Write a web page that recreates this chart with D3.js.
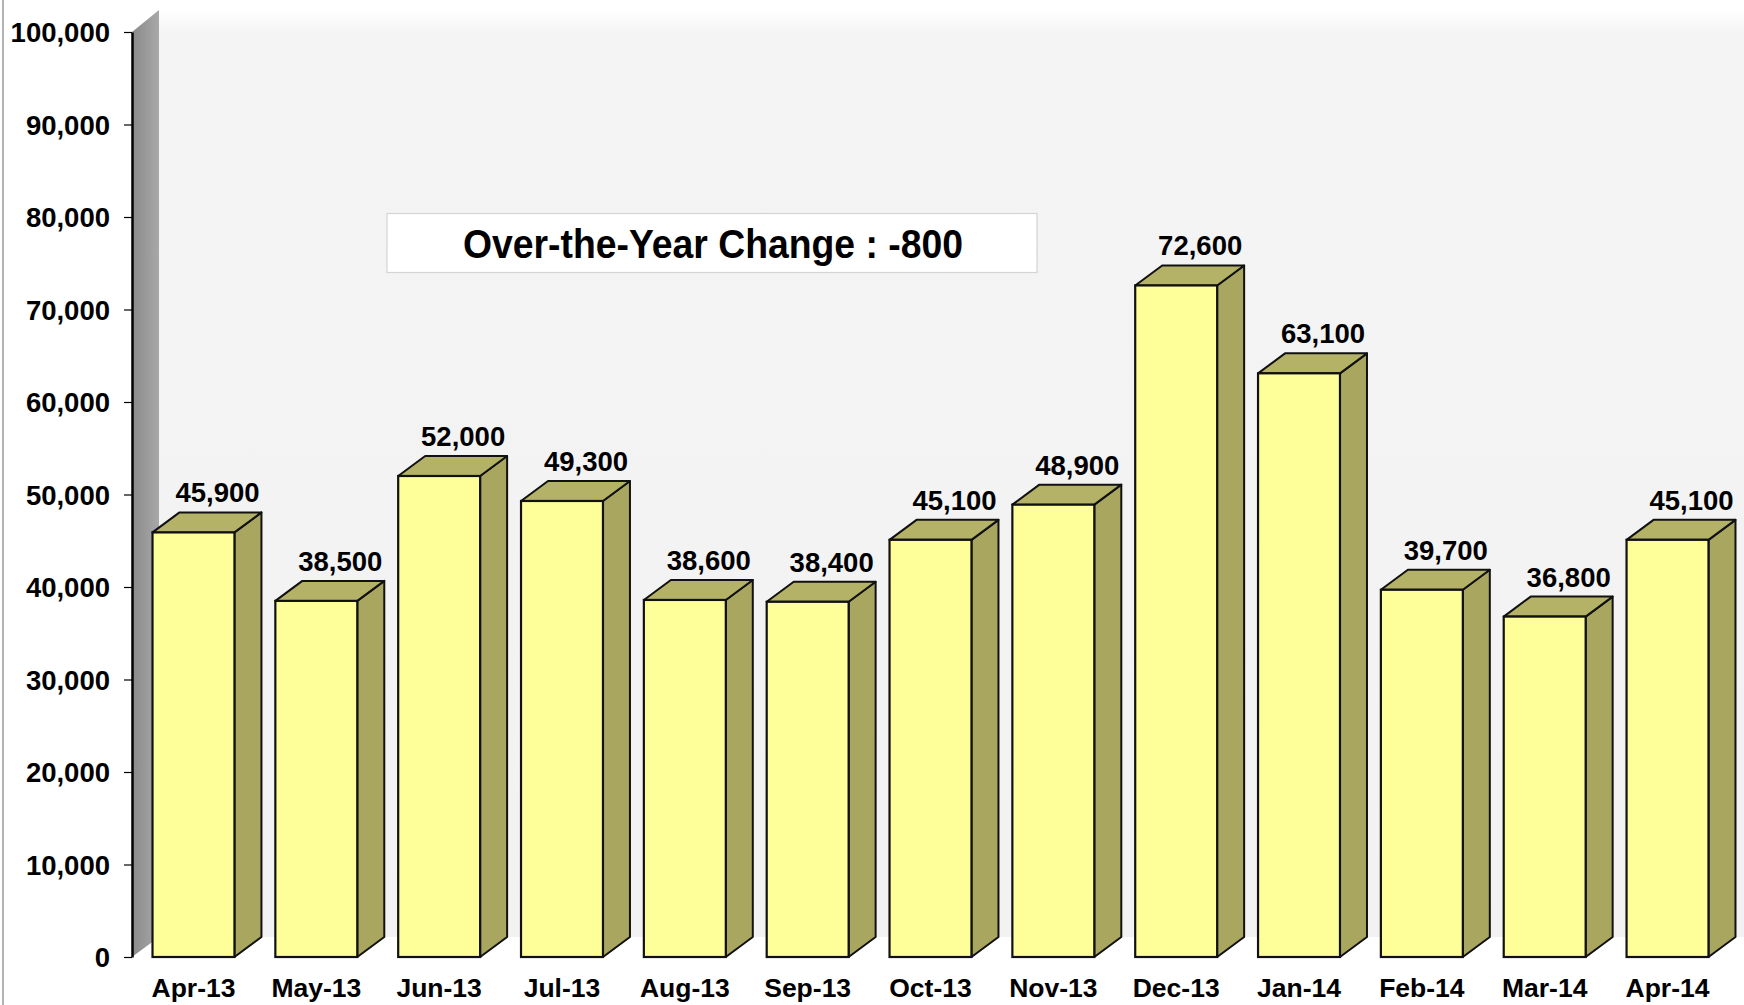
<!DOCTYPE html>
<html>
<head>
<meta charset="utf-8">
<script src="https://cdn.jsdelivr.net/npm/d3@7"></script>
<style>
  html, body { margin: 0; padding: 0; background: #ffffff; }
  svg { display: block; }
  text { font-family: "Liberation Sans", Arial, sans-serif; font-weight: bold; fill: #000; }
</style>
</head>
<body>
<svg id="chart" width="1744" height="1005"></svg>
<script>
const categories = ["Apr-13","May-13","Jun-13","Jul-13","Aug-13","Sep-13","Oct-13","Nov-13","Dec-13","Jan-14","Feb-14","Mar-14","Apr-14"];
const values = [45900, 38500, 52000, 49300, 38600, 38400, 45100, 48900, 72600, 63100, 39700, 36800, 45100];
const yTicks = [0, 10000, 20000, 30000, 40000, 50000, 60000, 70000, 80000, 90000, 100000];
const annotationText = "Over-the-Year Change : -800";

(function () {
const W = 1744, H = 1005;
const plotLeft = 132, plotRight = 1729, plotBottom = 957, plotTop = 32;
const dx = 27, dy = -20;

const svg = d3.select("#chart");

const defs = svg.append("defs");
const sideGrad = defs.append("linearGradient").attr("id", "sideWall").attr("x1", 0).attr("x2", 1).attr("y1", 0).attr("y2", 0);
sideGrad.append("stop").attr("offset", "0%").attr("stop-color", "#8a8a8a");
sideGrad.append("stop").attr("offset", "100%").attr("stop-color", "#a8a8a8");
const backGrad = defs.append("linearGradient").attr("id", "backWall").attr("x1", 0).attr("x2", 0).attr("y1", 0).attr("y2", 1);
backGrad.append("stop").attr("offset", "0%").attr("stop-color", "#ffffff");
backGrad.append("stop").attr("offset", "2.5%").attr("stop-color", "#f4f4f4");
backGrad.append("stop").attr("offset", "100%").attr("stop-color", "#f2f2f2");

const y = d3.scaleLinear().domain([0, 100000]).range([plotBottom, plotTop]);
const x = d3.scaleBand().domain(categories).range([plotLeft, plotRight]).paddingInner(0.333).paddingOuter(0.167);

// outer left border line
svg.append("line").attr("x1", 3).attr("x2", 3).attr("y1", 0).attr("y2", H)
  .attr("stroke", "#9a9a9a").attr("stroke-width", 1.5);

// back wall
svg.append("rect")
  .attr("x", plotLeft + dx).attr("y", y(100000) + dy - 2)
  .attr("width", W - (plotLeft + dx)).attr("height", (y(0) + dy) - (y(100000) + dy - 2))
  .attr("fill", "url(#backWall)");

// side wall
svg.append("polygon")
  .attr("points", [[plotLeft, y(100000)], [plotLeft + dx, y(100000) + dy - 2], [plotLeft + dx, y(0) + dy], [plotLeft, y(0)]].map(p => p.join(",")).join(" "))
  .attr("fill", "url(#sideWall)");

// y axis
const yAxis = d3.axisLeft(y).tickValues(yTicks).tickSize(8).tickPadding(14)
  .tickFormat(d3.format(",")).tickSizeOuter(0);
const gy = svg.append("g").attr("transform", `translate(${plotLeft},0)`).call(yAxis);
gy.select(".domain").attr("stroke", "#000").attr("stroke-width", 2.5);
gy.selectAll(".tick line").attr("stroke", "#000").attr("stroke-width", 1.2);
gy.selectAll(".tick text").style("font-size", "27.5px").style("font-weight", "bold")
  .style("font-family", "'Liberation Sans', Arial, sans-serif").attr("fill", "#000").attr("dy", "0.36em");

// bars
const bars = svg.append("g").selectAll("g.bar").data(categories.map((c, i) => ({ c, v: values[i] })))
  .join("g").attr("class", "bar");

bars.append("polygon") // side
  .attr("points", d => {
    const x1 = x(d.c) + x.bandwidth(), yt = y(d.v), yb = y(0);
    return [[x1, yt], [x1 + dx, yt + dy], [x1 + dx, yb + dy], [x1, yb]].map(p => p.join(",")).join(" ");
  })
  .attr("fill", "#a8a65f").attr("stroke", "#111").attr("stroke-width", 2).attr("stroke-linejoin", "round");

bars.append("polygon") // top
  .attr("points", d => {
    const x0 = x(d.c), x1 = x0 + x.bandwidth(), yt = y(d.v);
    return [[x0, yt], [x0 + dx, yt + dy], [x1 + dx, yt + dy], [x1, yt]].map(p => p.join(",")).join(" ");
  })
  .attr("fill", "#b4b267").attr("stroke", "#111").attr("stroke-width", 2).attr("stroke-linejoin", "round");

bars.append("rect") // front
  .attr("x", d => x(d.c)).attr("y", d => y(d.v))
  .attr("width", x.bandwidth()).attr("height", d => y(0) - y(d.v))
  .attr("fill", "#ffff99").attr("stroke", "#111").attr("stroke-width", 2.2);

bars.append("text")
  .attr("x", d => x(d.c) + x.bandwidth() / 2 + 24)
  .attr("y", d => y(d.v) + dy - 10)
  .attr("text-anchor", "middle")
  .style("font-size", "27.5px")
  .text(d => d3.format(",")(d.v));

// x labels
svg.append("g").selectAll("text").data(categories).join("text")
  .attr("x", d => x(d) + x.bandwidth() / 2)
  .attr("y", 997)
  .attr("text-anchor", "middle")
  .style("font-size", "26.5px")
  .text(d => d);

// annotation box
svg.append("rect").attr("x", 387).attr("y", 213.5).attr("width", 650).attr("height", 59)
  .attr("fill", "#ffffff").attr("stroke", "#d4d4d4").attr("stroke-width", 1.2);
svg.append("text").attr("x", 713).attr("y", 258).attr("text-anchor", "middle")
  .style("font-size", "40px")
  .attr("textLength", 500).attr("lengthAdjust", "spacingAndGlyphs")
  .text(annotationText);
})();
</script>
</body>
</html>
